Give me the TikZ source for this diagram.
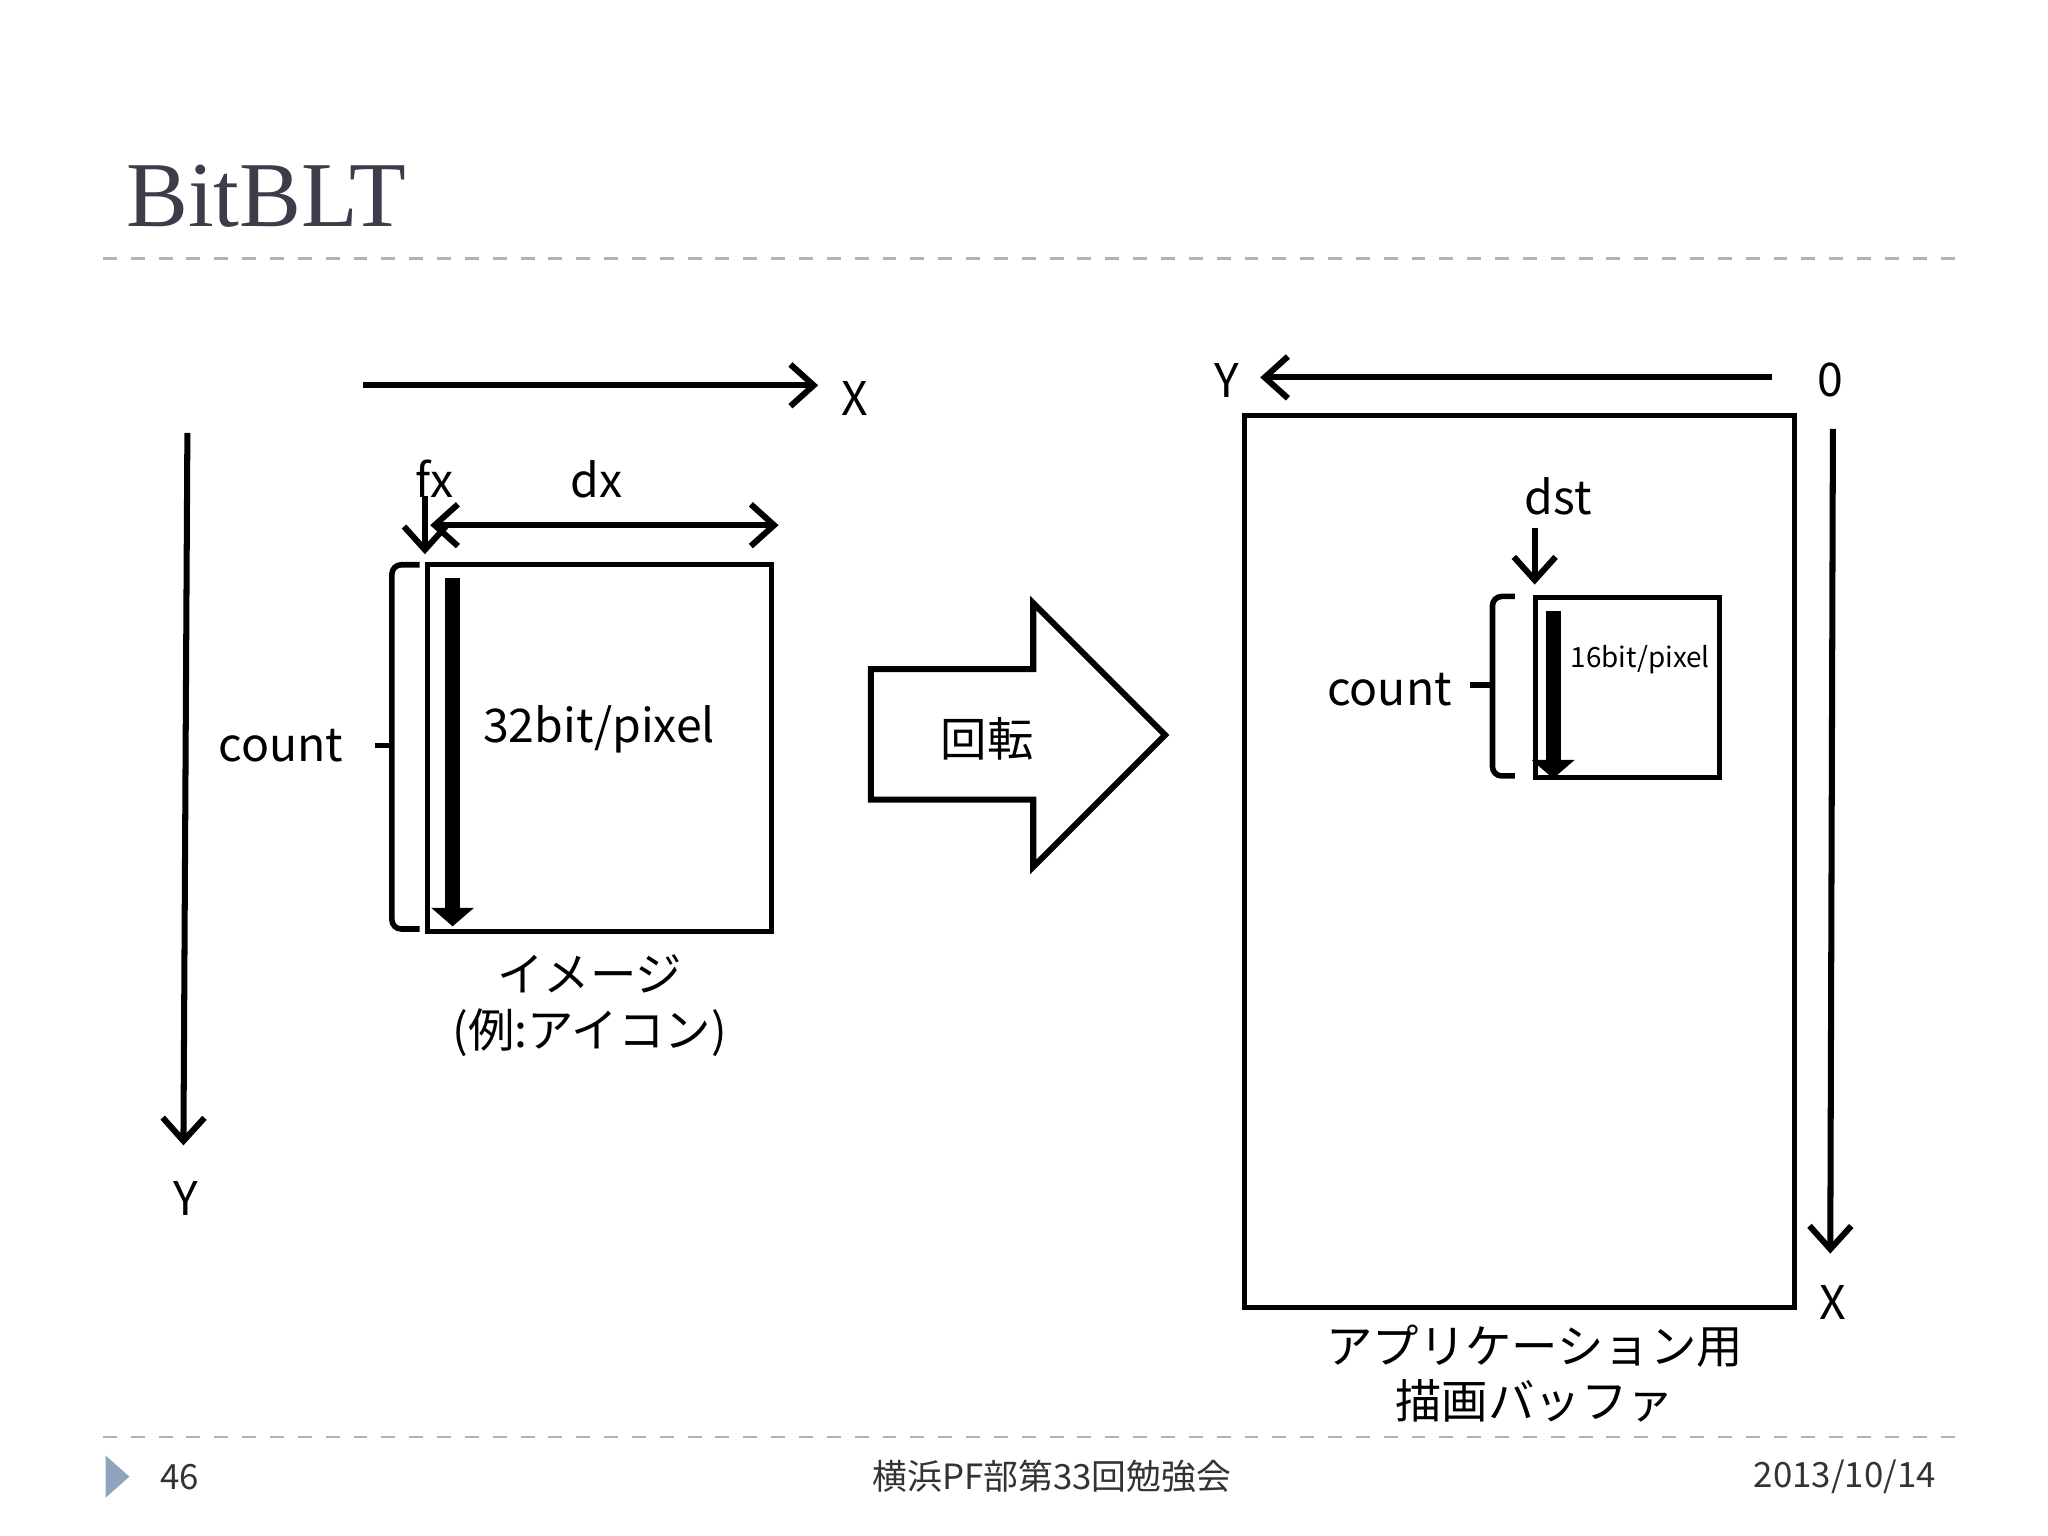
\documentclass[tikz,border=0pt]{standalone}
\usepackage{fontspec}
\setmainfont{Noto Sans CJK JP}
\newfontfamily\titlefont{Liberation Serif}
\usetikzlibrary{arrows.meta}
\definecolor{tgray}{HTML}{3C3C4A}
\definecolor{tri}{HTML}{8FA3BD}
\begin{document}
\begin{tikzpicture}[x=0.01cm,y=-0.01cm,
  ln/.style={line width=1.3pt,-{Straight Barb[length=5pt,width=9pt]}},
  box/.style={draw,line width=1.1pt},
  fat/.style={line width=3.2pt,-{Triangle[length=4pt,width=9pt]}},
  brk/.style={line width=1.2pt,rounded corners=2pt},
  lbl/.style={font=\fontsize{10}{12}\selectfont},
  ft/.style={font=\fontsize{7.5}{9}\selectfont,text=black!80},
  dsh/.style={draw=black!30,dashed,line width=0.5pt}]
\useasboundingbox (0,0) rectangle (1552,1164);
\draw[dsh] (78,196) -- (1490,196);
\draw[dsh] (78,1089) -- (1490,1089);
\node[anchor=base west,inner sep=0pt,font=\titlefont\fontsize{20}{24}\selectfont,text=tgray] (title) at (95,172) {BitBLT};
% left
\coordinate (xa) at (275,292); \coordinate (xb) at (620,292);
\draw[ln] (xa) -- (xb);
\node[lbl] (xl) at (648,302) {X};
\coordinate (ya) at (142,328); \coordinate (yb) at (139,868);
\draw[ln] (ya) -- (yb);
\node[lbl] (yl) at (141,908) {Y};
\node[box,minimum width=261*0.01cm,minimum height=278*0.01cm,anchor=north west] (img) at (322,426) {};
\coordinate (fa) at (343,438); \coordinate (fb) at (343,702);
\draw[fat] (fa) -- (fb);
\draw[brk] (318,428) -- (297,428) -- (297,704) -- (318,704);
\draw[line width=1.2pt] (297,565) -- (284,565);
\node[lbl] (c1) at (213,565) {count};
\node[lbl] (fx) at (329,363) {fx};
\coordinate (fxa) at (322,376); \coordinate (fxb) at (322,420);
\draw[ln] (fxa) -- (fxb);
\node[lbl] (dx) at (452,363) {dx};
\coordinate (dxa) at (326,398); \coordinate (dxb) at (590,398);
\draw[line width=1.3pt,{Straight Barb[length=5pt,width=9pt]}-{Straight Barb[length=5pt,width=9pt]}] (dxa) -- (dxb);
\node[lbl] (bpp) at (454,553) {32bit/pixel};
\node[lbl,align=center] (cap1) at (447,762) {イメージ\\(例:アイコン)};
% big arrow
\draw[line width=1.3pt] (660,507) -- (783,507) -- (783,457) -- (883,557) -- (783,657) -- (783,606) -- (660,606) -- cycle;
\node[lbl] (rot) at (748,560) {回転};
% right
\node[box,minimum width=417*0.01cm,minimum height=676*0.01cm,anchor=north west] (buf) at (941,313) {};
\coordinate (ra) at (1343,286); \coordinate (rb) at (955,286);
\draw[ln] (ra) -- (rb);
\node[lbl] (ry) at (930,288) {Y};
\node[lbl] (r0) at (1387,288) {0};
\coordinate (rva) at (1389,325); \coordinate (rvb) at (1387,950);
\draw[ln] (rva) -- (rvb);
\node[lbl] (rx) at (1389,987) {X};
\node[box,minimum width=139*0.01cm,minimum height=136*0.01cm,anchor=north west] (sm) at (1162,451) {};
\node[lbl] (dst) at (1181,376) {dst};
\coordinate (da) at (1163,400); \coordinate (db) at (1163,443);
\draw[ln] (da) -- (db);
\draw[brk] (1148,452) -- (1131,452) -- (1131,588) -- (1148,588);
\draw[line width=1.2pt] (1131,519) -- (1114,519);
\node[lbl] (c2) at (1053,523) {count};
\coordinate (sa) at (1177,463); \coordinate (sb) at (1177,590);
\draw[fat] (sa) -- (sb);
\node[font=\fontsize{6}{8}\selectfont] (b16) at (1243,500) {16bit/pixel};
\node[lbl,align=center] (cap2) at (1163,1041) {アプリケーション用\\描画バッファ};
% footer
\fill[tri] (80,1103) -- (98,1119) -- (80,1135) -- cycle;
\node[ft] (pg) at (136,1119) {46};
\node[ft] (ev) at (797,1119) {横浜PF部第33回勉強会};
\node[ft] (dt) at (1398,1119) {2013/10/14};
\end{tikzpicture}
\end{document}
